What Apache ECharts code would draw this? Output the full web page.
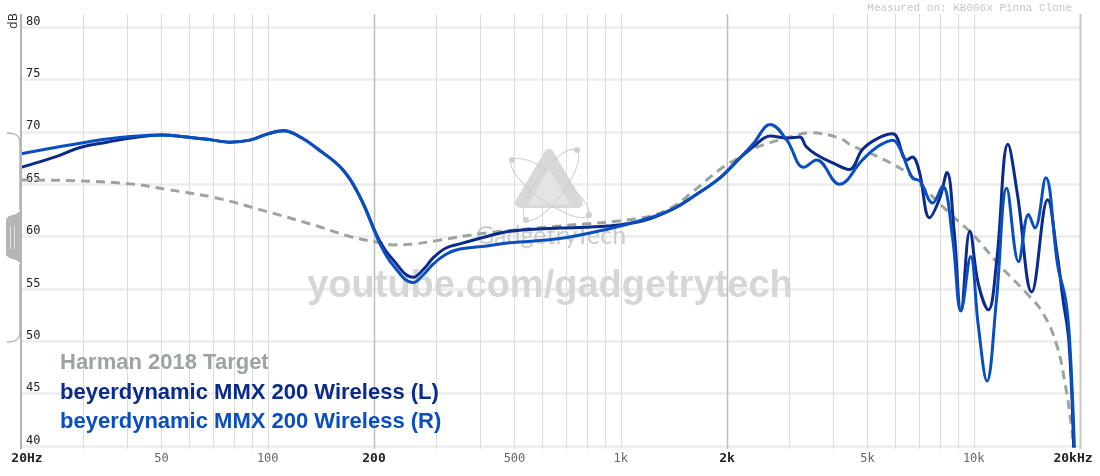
<!DOCTYPE html>
<html>
<head>
<meta charset="utf-8">
<script src="https://cdn.jsdelivr.net/npm/echarts@6/dist/echarts.min.js"></script>
<style>
  html, body { margin: 0; padding: 0; background: #fff; }
  #chart { width: 1100px; height: 476px; }
</style>
</head>
<body>
<div id="chart"></div>
<script>
// frequency response data (Hz, dB)
var harmanFreq = [20, 30, 41.5, 51.7, 71, 99, 138, 171, 208, 226, 260, 300, 418, 672, 1158, 1400, 1602, 1910, 2176, 2378, 2954, 3430, 4164, 4500, 5325, 6460, 7380, 8740, 9940, 11800, 14100, 15700, 17200, 18200, 18800, 19200];
var harmanDb   = [65.4, 65.3, 65.0, 64.5, 63.7, 62.4, 61.0, 60.0, 59.4, 59.2, 59.3, 59.6, 60.35, 61.0, 61.8, 62.8, 64.3, 66.4, 67.6, 68.4, 69.4, 69.9, 69.4, 68.7, 67.65, 66.1, 64.3, 61.9, 60.2, 57.3, 54.6, 52.7, 49.6, 45.7, 42.6, 39.8];

var leftFreq = [20, 25, 29.4, 35, 40.8, 50, 59, 70, 78, 89, 100, 111, 125, 138, 163, 183, 208, 226, 258, 275, 295, 320, 350, 418, 484, 672, 916, 1158, 1400, 1602, 1910, 2176, 2378, 2652, 2954, 3215, 3350, 3588, 4000, 4440, 4838, 5300, 5900, 6460, 6700, 7000, 7500, 8000, 8400, 8800, 9200, 9750, 10300, 11000, 11600, 12500, 13300, 14600, 16200, 17200, 17900, 18600, 19200];
var leftDb   = [66.6, 67.6, 68.5, 69.0, 69.4, 69.7, 69.5, 69.2, 69.0, 69.2, 69.8, 70.1, 69.4, 68.4, 66.4, 63.7, 59.5, 57.8, 56.1, 56.8, 58.0, 58.9, 59.3, 60.0, 60.5, 60.8, 61.0, 61.5, 62.6, 63.8, 65.6, 67.5, 68.6, 69.6, 69.4, 69.5, 68.6, 67.8, 67.0, 66.4, 68.3, 69.3, 69.8, 67.3, 67.6, 66.3, 61.8, 63.6, 66.1, 60.5, 52.9, 60.5, 55.5, 53.0, 57.5, 68.8, 64.0, 54.7, 63.5, 58.5, 54.0, 50.0, 39.5];

var rightFreq = [20, 25, 29.4, 35, 40.8, 50, 59, 70, 78, 89, 100, 111, 125, 138, 163, 183, 208, 226, 258, 275, 295, 320, 350, 418, 484, 672, 916, 1158, 1400, 1602, 1910, 2176, 2378, 2652, 2954, 3300, 3588, 4164, 4838, 5300, 5900, 6200, 6700, 7040, 7650, 8160, 8700, 9200, 9800, 10300, 10900, 11600, 12400, 13400, 14300, 14900, 16000, 17300, 18200, 18700, 19300];
var rightDb   = [67.9, 68.5, 68.9, 69.3, 69.55, 69.7, 69.5, 69.2, 69.0, 69.2, 69.8, 70.1, 69.4, 68.4, 66.4, 63.7, 59.3, 57.3, 55.6, 56.3, 57.4, 58.3, 58.8, 59.1, 59.4, 59.8, 60.7, 61.6, 62.6, 63.8, 65.6, 67.5, 68.9, 70.7, 69.2, 66.6, 67.3, 65.0, 67.3, 68.5, 69.2, 68.3, 65.6, 65.3, 63.2, 64.8, 60.0, 52.9, 58.1, 51.5, 46.2, 54.0, 64.6, 57.6, 62.1, 60.8, 65.6, 57.2, 54.0, 50.0, 39.5];

var seriesNames = ['Harman 2018 Target', 'beyerdynamic MMX 200 Wireless (L)', 'beyerdynamic MMX 200 Wireless (R)'];
var seriesColors = ['#9ba59f', '#0b2b8c', '#0a4fc2'];

var gridFreqs = [30, 40, 50, 60, 70, 80, 90, 100, 200, 300, 400, 500, 600, 700, 800, 900, 1000, 2000, 3000, 4000, 5000, 6000, 7000, 8000, 9000, 10000, 20000];
var majorGrid = [200, 2000];
var tickFreqs = [20, 50, 100, 200, 500, 1000, 2000, 5000, 10000, 20000];
var tickText  = ['20Hz', '50', '100', '200', '500', '1k', '2k', '5k', '10k', '20kHz'];
var majorTicks = [20, 200, 2000, 20000];

function pairs(f, v) {
  return f.map(function (x, i) { return [x, v[i]]; });
}

// ellipse outline as polygon points around 0,0
function ellipsePts(rx, ry) {
  var pts = [];
  for (var k = 0; k < 60; k++) {
    var a = k / 60 * Math.PI * 2;
    pts.push([rx * Math.cos(a), ry * Math.sin(a)]);
  }
  return pts;
}

var chart = echarts.init(document.getElementById('chart'));

chart.setOption({
  animation: false,
  backgroundColor: '#fff',
  grid: { left: 21, right: 20, top: 27, bottom: 30 },
  legend: {
    orient: 'vertical',
    left: 50,
    top: 347,
    icon: 'none',
    itemWidth: 0,
    itemHeight: 10,
    itemGap: 7.5,
    selectedMode: false,
    textStyle: { fontSize: 22, fontWeight: 'bold', fontFamily: 'Liberation Sans' },
    data: seriesNames.map(function (n, i) {
      return { name: n, textStyle: { color: seriesColors[i] } };
    })
  },
  xAxis: {
    type: 'log',
    logBase: 10,
    min: 20,
    max: 20000,
    axisLine: { show: false },
    axisTick: { show: false },
    axisLabel: { show: false },
    splitLine: { show: false }
  },
  yAxis: {
    type: 'value',
    min: 40,
    max: 80,
    interval: 5,
    axisLine: { show: false },
    axisTick: { show: false },
    axisLabel: {
      inside: true,
      margin: 5,
      verticalAlign: 'bottom',
      color: '#222',
      fontSize: 12,
      lineHeight: 11,
      fontFamily: 'DejaVu Sans Mono'
    },
    splitLine: { lineStyle: { color: '#ececec', width: 2.5 } }
  },
  series: [{
    name: seriesNames[0],
    type: 'line',
    smooth: 0.4,
    symbol: 'none',
    z: 3,
    data: pairs(harmanFreq, harmanDb),
    lineStyle: { color: seriesColors[0], width: 3, type: [9, 6] }
  }, {
    name: seriesNames[1],
    type: 'line',
    smooth: 0.4,
    symbol: 'none',
    z: 4,
    data: pairs(leftFreq, leftDb),
    lineStyle: { color: seriesColors[1], width: 3 }
  }, {
    name: seriesNames[2],
    type: 'line',
    smooth: 0.4,
    symbol: 'none',
    z: 5,
    data: pairs(rightFreq, rightDb),
    lineStyle: { color: seriesColors[2], width: 3 }
  }]
});

// frequency grid lines, tick labels and decorations, placed with the axis scale
var gtop = 14, gbot = 449;
var graphics = [];
gridFreqs.forEach(function (f) {
  var x = Math.round(chart.convertToPixel({ xAxisIndex: 0 }, f)) + 0.5;
  var major = majorGrid.indexOf(f) >= 0;
  var edge = f === 20000;
  graphics.push({
    type: 'line', z: 0, silent: true,
    shape: { x1: x, y1: gtop, x2: x, y2: gbot },
    style: { stroke: edge ? '#c8c8c8' : (major ? '#bdbdbd' : '#dcdcdc'), lineWidth: edge ? 2 : (major ? 1.5 : 1) }
  });
});
tickFreqs.forEach(function (f, i) {
  var x = chart.convertToPixel({ xAxisIndex: 0 }, f);
  var major = majorTicks.indexOf(f) >= 0;
  if (i === 0) x += 6;
  if (i === tickFreqs.length - 1) x -= 7;
  graphics.push({
    type: 'text', z: 10, silent: true,
    x: x, y: 459,
    style: {
      text: tickText[i], align: 'center', verticalAlign: 'middle',
      font: (major ? 'bold 13px' : '12px') + ' "DejaVu Sans Mono"',
      fill: major ? '#222' : '#666'
    }
  });
});

// y axis line and the scale handle on the left
graphics.push({
  type: 'line', z: 6, silent: true,
  shape: { x1: 21, y1: gtop, x2: 21, y2: gbot },
  style: { stroke: '#b4b4b4', lineWidth: 2 }
});
graphics.push({
  type: 'bezierCurve', z: 6, silent: true,
  shape: { x1: 7, y1: 133, cpx1: 15, cpy1: 133, cpx2: 20, cpy2: 135, x2: 20, y2: 143 },
  style: { stroke: '#b0b0b0', lineWidth: 1.5, fill: null }
});
graphics.push({
  type: 'bezierCurve', z: 6, silent: true,
  shape: { x1: 20, y1: 332, cpx1: 20, cpy1: 340, cpx2: 15, cpy2: 342, x2: 7, y2: 342 },
  style: { stroke: '#b0b0b0', lineWidth: 1.5, fill: null }
});
graphics.push({ type: 'line', z: 6, silent: true, shape: { x1: 20, y1: 143, x2: 20, y2: 210 }, style: { stroke: '#b0b0b0', lineWidth: 1.5 } });
graphics.push({ type: 'line', z: 6, silent: true, shape: { x1: 20, y1: 264, x2: 20, y2: 332 }, style: { stroke: '#b0b0b0', lineWidth: 1.5 } });
graphics.push({
  type: 'polygon', z: 6, silent: true,
  shape: { points: [[21, 206], [20, 211], [16, 214], [9, 216], [6, 219], [6, 255], [9, 258], [16, 260], [20, 263], [21, 267]] },
  style: { fill: '#b5b5b5' }
});
graphics.push({ type: 'line', z: 7, silent: true, shape: { x1: 10.5, y1: 226, x2: 10.5, y2: 249 }, style: { stroke: '#e2e2e2', lineWidth: 1 } });
graphics.push({ type: 'line', z: 7, silent: true, shape: { x1: 14.5, y1: 226, x2: 14.5, y2: 249 }, style: { stroke: '#e2e2e2', lineWidth: 1 } });

graphics.push({
  type: 'text', z: 10, silent: true,
  x: 14, y: 21, rotation: Math.PI / 2,
  style: { text: 'dB', align: 'center', verticalAlign: 'middle', font: '12px "DejaVu Sans"', fill: '#333' }
});
graphics.push({
  type: 'text', z: 10, silent: true,
  x: 1072, y: 8,
  style: { text: 'Measured on: KB006x Pinna Clone', align: 'right', verticalAlign: 'middle', font: '11px "Liberation Mono"', fill: '#c6c6c6' }
});

// watermark
graphics.push({
  type: 'text', z: 1, silent: true,
  x: 550, y: 287,
  style: { text: 'youtube.com/gadgetrytech', align: 'center', verticalAlign: 'middle', font: 'bold 38px "Liberation Sans"', fill: '#d6d6d6' }
});
graphics.push({
  type: 'polygon', z: 1, silent: true,
  shape: { points: [[549, 154], [578, 203], [520, 203]] },
  style: { fill: '#d8d8d8', stroke: '#d8d8d8', lineWidth: 10, lineJoin: 'round' }
});
graphics.push({
  type: 'polygon', z: 1, silent: true,
  shape: { points: [[549, 168], [570, 205], [528, 205]] },
  style: { fill: '#e4e4e4' }
});
graphics.push({
  type: 'polygon', z: 1, silent: true,
  x: 550, y: 188, rotation: -0.62,
  shape: { points: ellipsePts(47, 14) },
  style: { fill: null, stroke: '#cfcfcf', lineWidth: 1 }
});
graphics.push({
  type: 'polygon', z: 1, silent: true,
  x: 551, y: 185, rotation: 0.94,
  shape: { points: ellipsePts(43, 14) },
  style: { fill: null, stroke: '#cfcfcf', lineWidth: 1 }
});
[[512, 160], [577, 150], [526, 220], [589, 215]].forEach(function (p) {
  graphics.push({ type: 'circle', z: 1, silent: true, shape: { cx: p[0], cy: p[1], r: 3 }, style: { fill: '#cfcfcf' } });
});
graphics.push({
  type: 'text', z: 1, silent: true,
  x: 551, y: 236,
  style: { text: 'GadgetryTech', align: 'center', verticalAlign: 'middle', font: '25px Lato', fill: '#cccccc' }
});

chart.setOption({ graphic: graphics });
</script>
</body>
</html>
